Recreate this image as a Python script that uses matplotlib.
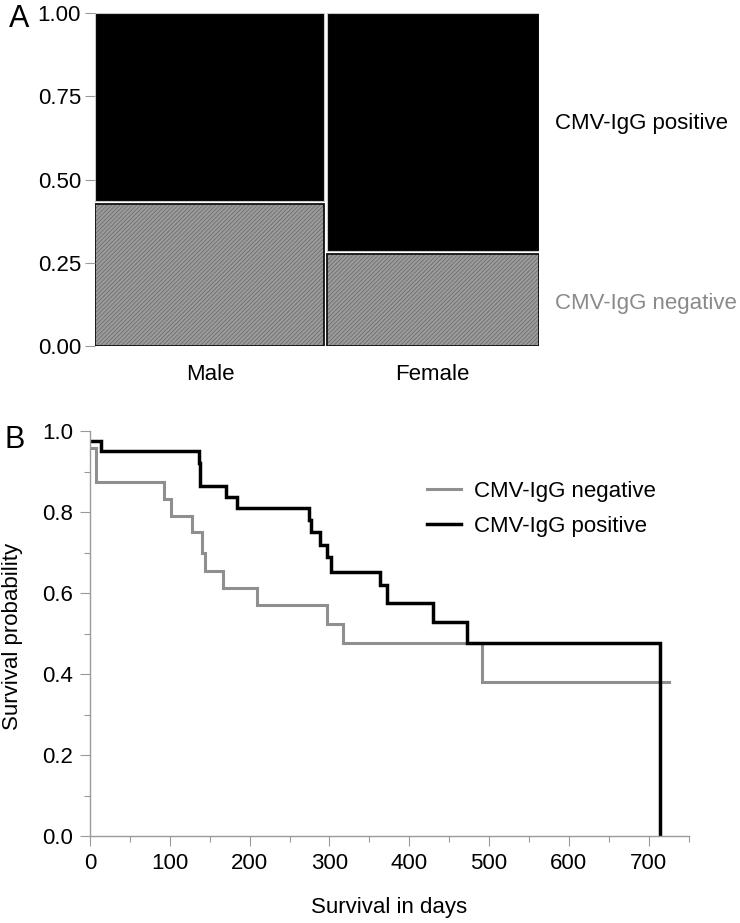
import matplotlib
matplotlib.use("Agg")
import matplotlib.pyplot as plt
from matplotlib.lines import Line2D
from matplotlib.patches import Rectangle

plt.rcParams['font.family'] = ['Liberation Sans', 'DejaVu Sans']
plt.rcParams['hatch.linewidth'] = 0.6

# ---------------- data ----------------
sexes = ["Male", "Female"]
sex_share = [0.52, 0.48]          # column widths of the mosaic
neg_share = [0.43, 0.28]          # CMV-IgG negative proportion within each sex
mosaic_yticks = [0.00, 0.25, 0.50, 0.75, 1.00]

neg_days = [0, 7, 93, 102, 128, 140, 144, 167, 209, 297, 317, 491, 725]
neg_surv = [0.958, 0.875, 0.833, 0.79, 0.75, 0.70, 0.655, 0.613, 0.57, 0.523, 0.476, 0.38, 0.38]

pos_days = [0, 14, 136, 138, 171, 184, 274, 277, 288, 297, 302, 363, 372, 430, 472, 714]
pos_surv = [0.975, 0.95, 0.92, 0.865, 0.838, 0.809, 0.78, 0.75, 0.718, 0.69, 0.653, 0.62, 0.575, 0.529, 0.476, 0.0]

km_xticks = [0, 100, 200, 300, 400, 500, 600, 700]
km_yticks = [0.0, 0.2, 0.4, 0.6, 0.8, 1.0]

# ---------------- figure ----------------
W, H = 740, 923
fig = plt.figure(figsize=(W / 100, H / 100), dpi=100)

def fx(px):
    return px / W

def fy(py):
    return 1 - py / H

FS = 16
GRAY_TXT = "#8a8a8a"
AXIS_GRAY = "#9a9a9a"

# ---------------- panel A: mosaic ----------------
axA = fig.add_axes([fx(95), fy(346), fx(539) - fx(95), fy(13) - fy(346)])
axA.set_xlim(0, 1)
axA.set_ylim(0, 1)

gap_x = 1.6 / (539 - 95)     # half gap in data units
gap_y = 1.6 / (346 - 13)
left = 0.0
centers = []
for sex, w, neg in zip(sexes, sex_share, neg_share):
    x0 = left + (gap_x if left > 0 else 0)
    x1 = left + w - (gap_x if left + w < 0.999 else 0)
    # negative (gray, textured) tile
    axA.add_patch(Rectangle((x0, 0), x1 - x0, neg - gap_y, facecolor="#9c9c9c",
                            edgecolor="#6e6e6e", hatch="////////", linewidth=0))
    axA.add_patch(Rectangle((x0, 0), x1 - x0, neg - gap_y, facecolor="none",
                            edgecolor="#111111", linewidth=1.3))
    # positive (black) tile
    axA.add_patch(Rectangle((x0, neg + gap_y), x1 - x0, 1 - neg - gap_y,
                            facecolor="black", edgecolor="#c8c8c8", linewidth=0.8))
    centers.append(left + w / 2)
    left += w

for s in axA.spines.values():
    s.set_visible(False)
axA.set_yticks(mosaic_yticks)
axA.set_yticklabels([f"{v:.2f}" for v in mosaic_yticks], fontsize=FS)
axA.tick_params(axis="y", length=7, width=0.8, color=AXIS_GRAY, pad=3)
axA.set_xticks(centers)
axA.set_xticklabels(sexes, fontsize=FS)
axA.tick_params(axis="x", length=0, pad=13)

fig.text(fx(555), fy(123), "CMV-IgG positive", fontsize=FS, color="black",
         ha="left", va="center")
fig.text(fx(555), fy(303), "CMV-IgG negative", fontsize=FS, color=GRAY_TXT,
         ha="left", va="center")
fig.text(fx(19), fy(19), "A", fontsize=22, ha="center", va="center")

# ---------------- panel B: Kaplan-Meier ----------------
axB = fig.add_axes([fx(90), fy(836), fx(688.5) - fx(90), fy(431) - fy(836)])
axB.step(neg_days, neg_surv, where="post", color="#8f8f8f", linewidth=2.2,
         solid_joinstyle="miter")
axB.step(pos_days, pos_surv, where="post", color="black", linewidth=2.5,
         solid_joinstyle="miter")
axB.set_xlim(0, 750)
axB.set_ylim(0, 1.0)
axB.set_xticks(km_xticks)
axB.set_xticklabels([str(v) for v in km_xticks], fontsize=FS)
axB.set_xticks(list(range(50, 751, 100)), minor=True)
axB.set_yticks(km_yticks)
axB.set_yticklabels([f"{v:.1f}" for v in km_yticks], fontsize=FS)
axB.set_yticks([0.1, 0.3, 0.5, 0.7, 0.9], minor=True)
for side in ("top", "right"):
    axB.spines[side].set_visible(False)
for side in ("left", "bottom"):
    axB.spines[side].set_color(AXIS_GRAY)
    axB.spines[side].set_linewidth(1.0)
axB.tick_params(which="major", length=7, width=0.8, color=AXIS_GRAY)
axB.tick_params(which="minor", length=4, width=0.8, color=AXIS_GRAY)
axB.tick_params(axis="x", which="major", pad=5)
axB.tick_params(axis="y", which="major", pad=5)

handles = [Line2D([], [], color="#8f8f8f", linewidth=2.2),
           Line2D([], [], color="black", linewidth=2.5)]
axB.legend(handles, ["CMV-IgG negative", "CMV-IgG positive"], frameon=False,
           fontsize=FS, loc="upper left", bbox_to_anchor=(0.5475, 0.898),
           handlelength=1.55, handletextpad=0.6, labelspacing=0.62,
           borderaxespad=0)

fig.text(fx(13), fy(636), "Survival probability", fontsize=FS, rotation=90,
         ha="center", va="center")
fig.text(fx(389), fy(908), "Survival in days", fontsize=FS, ha="center",
         va="center")
fig.text(fx(15), fy(440), "B", fontsize=22, ha="center", va="center")

fig.savefig("out.png", dpi=100)
